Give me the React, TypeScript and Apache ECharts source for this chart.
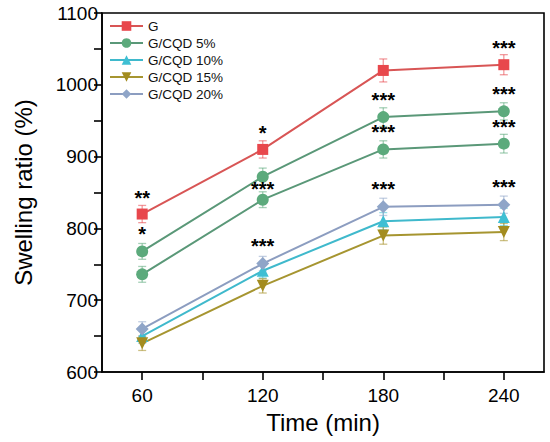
import React, { useEffect, useRef } from "react";
import * as echarts from "echarts";

const times = [60, 120, 180, 240];
const xLabelValues = [60, 120, 180, 240];
const xTickValues = [60, 90, 120, 150, 180, 210, 240];

const gValues = [820, 910, 1020, 1028];
const cqd5Values = [768, 872, 955, 963];
const cqd5bValues = [736, 840, 910, 918];
const cqd10Values = [650, 741, 810, 816];
const cqd15Values = [640, 720, 790, 795];
const cqd20Values = [660, 751, 830, 833];

const gErr = [12, 12, 16, 14];
const cqd5Err = [11, 12, 13, 12];
const cqd5bErr = [11, 11, 12, 13];
const cqd10Err = [10, 10, 12, 12];
const cqd15Err = [10, 10, 12, 12];
const cqd20Err = [10, 10, 12, 12];

const gStars = ["**", "*", "", "***"];
const cqd5Stars = ["*", "", "***", "***"];
const cqd5bStars = ["", "***", "***", "***"];
const cqd10Stars = ["", "", "", ""];
const cqd15Stars = ["", "", "", ""];
const cqd20Stars = ["", "***", "***", "***"];

const legendNames = ["G", "G/CQD 5%", "G/CQD 10%", "G/CQD 15%", "G/CQD 20%"];

const FONT = "'Liberation Sans', Arial, sans-serif";

type Def = {
  name: string;
  values: number[];
  errs: number[];
  stars: string[];
  symbol: string;
  size: number;
  rotate?: number;
  color: string;
  lineColor: string;
  labelOffsets?: Record<number, number[]>;
};

const defs: Def[] = [
  { name: "G", values: gValues, errs: gErr, stars: gStars, symbol: "rect", size: 11, color: "#e8474c", lineColor: "#d85555" },
  { name: "G/CQD 5%", values: cqd5Values, errs: cqd5Err, stars: cqd5Stars, symbol: "circle", size: 12, color: "#5caa7c", lineColor: "#5a9878" },
  { name: "G/CQD 5%", values: cqd5bValues, errs: cqd5bErr, stars: cqd5bStars, symbol: "circle", size: 12, color: "#5caa7c", lineColor: "#5a9878", labelOffsets: { 1: [0, 6] } },
  { name: "G/CQD 10%", values: cqd10Values, errs: cqd10Err, stars: cqd10Stars, symbol: "triangle", size: 12, color: "#3fbfd3", lineColor: "#3fb9cc" },
  { name: "G/CQD 15%", values: cqd15Values, errs: cqd15Err, stars: cqd15Stars, symbol: "triangle", size: 12, rotate: 180, color: "#a38c1f", lineColor: "#a69530" },
  { name: "G/CQD 20%", values: cqd20Values, errs: cqd20Err, stars: cqd20Stars, symbol: "diamond", size: 13, color: "#8fa5c8", lineColor: "#8c9dc0" },
];

export default function App() {
  const ref = useRef<HTMLDivElement>(null);
  useEffect(() => {
    if (!ref.current) return;
    const chart = echarts.init(ref.current, undefined, { renderer: "svg" });

    const series: any[] = [];
    defs.forEach((d) => {
      series.push({
        type: "line",
        name: d.name,
        z: 3,
        symbol: d.symbol,
        symbolSize: d.size,
        symbolRotate: d.rotate || 0,
        showAllSymbol: true,
        itemStyle: { color: d.color, borderWidth: 0 },
        lineStyle: { color: d.lineColor, width: 2 },
        data: times.map((t, i) => ({
          value: [t, d.values[i]],
          label: {
            show: d.stars[i] !== "",
            formatter: d.stars[i],
            position: "top",
            distance: 1,
            offset: (d.labelOffsets && d.labelOffsets[i]) || [0, 0],
            color: "#000",
            fontSize: 20,
            fontWeight: "bold",
            fontFamily: FONT,
          },
        })),
      });
    });
    defs.forEach((d, k) => {
      series.push({
        type: "custom",
        name: "errorbar-" + k,
        silent: true,
        z: 1,
        renderItem: (params: any, api: any) => {
          const x = api.value(0);
          const y = api.value(1);
          const e = api.value(2);
          const top = api.coord([x, y + e]);
          const bot = api.coord([x, y - e]);
          const cap = 4;
          const style = { stroke: d.color, lineWidth: 1.3, opacity: 0.55 };
          return {
            type: "group",
            children: [
              { type: "line", shape: { x1: top[0], y1: top[1], x2: bot[0], y2: bot[1] }, style },
              { type: "line", shape: { x1: top[0] - cap, y1: top[1], x2: top[0] + cap, y2: top[1] }, style },
              { type: "line", shape: { x1: bot[0] - cap, y1: bot[1], x2: bot[0] + cap, y2: bot[1] }, style },
            ],
          };
        },
        data: times.map((t, i) => [t, d.values[i], d.errs[i]]),
      });
    });

    chart.setOption({
      animation: false,
      backgroundColor: "#fff",
      textStyle: { fontFamily: FONT },
      grid: {
        left: 102,
        right: 6,
        top: 13,
        bottom: 70,
        show: true,
        borderColor: "#000",
        borderWidth: 1.6,
        containLabel: false,
      },
      legend: {
        data: legendNames,
        orient: "vertical",
        left: 104,
        top: 14,
        itemWidth: 33,
        itemHeight: 12,
        itemGap: 3,
        textStyle: { fontSize: 13.5, color: "#111", fontFamily: FONT, lineHeight: 14 },
      },
      xAxis: {
        type: "value",
        min: 40,
        max: 260,
        name: "Time (min)",
        nameLocation: "middle",
        nameGap: 38,
        nameTextStyle: { fontSize: 24, color: "#000", fontFamily: FONT },
        axisLine: { show: true, lineStyle: { color: "#000", width: 1.6 } },
        axisTick: { show: true, length: 8, customValues: xTickValues, lineStyle: { color: "#000", width: 1.6 } },
        axisLabel: { customValues: xLabelValues, fontSize: 19, color: "#000", margin: 14, fontFamily: FONT },
        splitLine: { show: false },
      },
      yAxis: {
        type: "value",
        min: 600,
        max: 1100,
        interval: 50,
        name: "Swelling ratio (%)",
        nameLocation: "middle",
        nameGap: 67,
        nameTextStyle: { fontSize: 24, color: "#000", fontFamily: FONT },
        axisLine: { show: true, lineStyle: { color: "#000", width: 1.6 } },
        axisTick: { show: true, length: 8, lineStyle: { color: "#000", width: 1.6 } },
        axisLabel: {
          fontSize: 19,
          color: "#000",
          margin: 4,
          fontFamily: FONT,
          formatter: (v: number) => (v % 100 === 0 ? String(v) : ""),
        },
        splitLine: { show: false },
      },
      series,
    });

    return () => chart.dispose();
  }, []);

  return (
    <div
      ref={ref}
      style={{ position: "fixed", left: 0, top: 0, width: 550, height: 442, background: "#fff" }}
    />
  );
}
